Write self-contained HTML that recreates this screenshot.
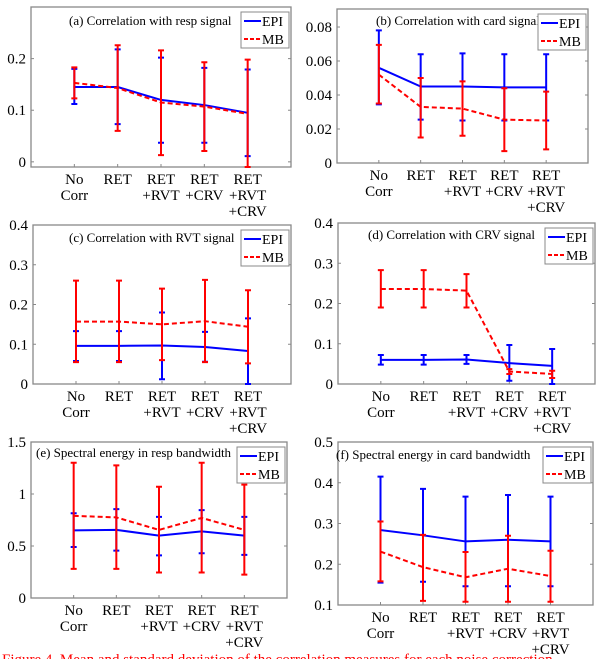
<!DOCTYPE html>
<html><head><meta charset="utf-8">
<style>
html,body{margin:0;padding:0;background:#fff;width:615px;height:659px;overflow:hidden}
svg{display:block}
text{font-family:"Liberation Serif",serif;fill:#000}
</style></head>
<body>
<svg id="fig" width="615" height="659" viewBox="0 0 615 659"></svg>
<script>
const categories = [["No","Corr"],["RET"],["RET","+RVT"],["RET","+CRV"],["RET","+RVT","+CRV"]];
const titles = ["(a) Correlation with resp signal","(b) Correlation with card signal","(c) Correlation with RVT signal","(d) Correlation with CRV signal","(e) Spectral energy in resp bandwidth","(f) Spectral energy in card bandwidth"];
const yTicksA=[0,0.1,0.2], yTicksB=[0,0.02,0.04,0.06,0.08], yTicksC=[0,0.1,0.2,0.3,0.4], yTicksD=[0,0.1,0.2,0.3,0.4], yTicksE=[0,0.5,1,1.5], yTicksF=[0.1,0.2,0.3,0.4,0.5];
const yTickLabelsA=["0","0.1","0.2"], yTickLabelsB=["0","0.02","0.04","0.06","0.08"], yTickLabelsC=["0","0.1","0.2","0.3","0.4"], yTickLabelsD=["0","0.1","0.2","0.3","0.4"], yTickLabelsE=["0","0.5","1","1.5"], yTickLabelsF=["0.1","0.2","0.3","0.4","0.5"];
// panel a
const epiMeanA=[0.145,0.145,0.12,0.11,0.095], epiLoA=[0.112,0.073,0.037,0.037,0.011], epiHiA=[0.18,0.218,0.202,0.182,0.179];
const mbMeanA=[0.153,0.143,0.115,0.107,0.093], mbLoA=[0.123,0.06,0.013,0.021,-0.01], mbHiA=[0.183,0.226,0.216,0.193,0.198];
// panel b
const epiMeanB=[0.056,0.045,0.045,0.0445,0.0445], epiLoB=[0.0345,0.0255,0.025,0.025,0.025], epiHiB=[0.078,0.064,0.0645,0.064,0.064];
const mbMeanB=[0.052,0.033,0.032,0.0255,0.025], mbLoB=[0.035,0.015,0.016,0.007,0.008], mbHiB=[0.0695,0.05,0.048,0.044,0.042];
// panel c
const epiMeanC=[0.096,0.096,0.097,0.093,0.083], epiLoC=[0.058,0.058,0.012,0.056,0], epiHiC=[0.133,0.133,0.18,0.131,0.165];
const mbMeanC=[0.157,0.157,0.15,0.158,0.144], mbLoC=[0.055,0.055,0.06,0.055,0.052], mbHiC=[0.26,0.26,0.24,0.262,0.236];
// panel d
const epiMeanD=[0.06,0.06,0.061,0.052,0.045], epiLoD=[0.048,0.048,0.05,0.008,0], epiHiD=[0.072,0.072,0.072,0.097,0.087];
const mbMeanD=[0.236,0.236,0.232,0.031,0.025], mbLoD=[0.19,0.19,0.19,0.025,0.015], mbHiD=[0.283,0.283,0.273,0.037,0.033];
// panel e
const epiMeanE=[0.65,0.655,0.6,0.64,0.6], epiLoE=[0.49,0.455,0.41,0.43,0.415], epiHiE=[0.815,0.855,0.78,0.845,0.78];
const mbMeanE=[0.79,0.775,0.655,0.77,0.655], mbLoE=[0.28,0.28,0.245,0.245,0.225], mbHiE=[1.3,1.275,1.07,1.3,1.09];
// panel f
const epiMeanF=[0.284,0.271,0.256,0.26,0.256], epiLoF=[0.155,0.157,0.146,0.146,0.146], epiHiF=[0.415,0.385,0.366,0.37,0.366];
const mbMeanF=[0.231,0.193,0.168,0.189,0.171], mbLoF=[0.158,0.11,0.108,0.108,0.108], mbHiF=[0.305,0.272,0.23,0.27,0.233];

const panels=[
 {L:31,R:291,T:7,B:167,y0:-0.01,y1:0.3,ticks:yTicksA,labels:yTickLabelsA,e:[epiMeanA,epiLoA,epiHiA],m:[mbMeanA,mbLoA,mbHiA],name:'a',tx:69,ty:25},
 {L:337,R:588,T:9,B:163,y0:0,y1:0.0906,ticks:yTicksB,labels:yTickLabelsB,e:[epiMeanB,epiLoB,epiHiB],m:[mbMeanB,mbLoB,mbHiB],name:'b',tx:376,ty:25},
 {L:33,R:291,T:225,B:384,y0:0,y1:0.4,ticks:yTicksC,labels:yTickLabelsC,e:[epiMeanC,epiLoC,epiHiC],m:[mbMeanC,mbLoC,mbHiC],name:'c',tx:69,ty:242},
 {L:338,R:595,T:223,B:384,y0:0,y1:0.4,ticks:yTicksD,labels:yTickLabelsD,e:[epiMeanD,epiLoD,epiHiD],m:[mbMeanD,mbLoD,mbHiD],name:'d',tx:368,ty:239},
 {L:31,R:287,T:442,B:598,y0:0,y1:1.5,ticks:yTicksE,labels:yTickLabelsE,e:[epiMeanE,epiLoE,epiHiE],m:[mbMeanE,mbLoE,mbHiE],name:'e',tx:36,ty:457},
 {L:338,R:593,T:442,B:605,y0:0.1,y1:0.5,ticks:yTicksF,labels:yTickLabelsF,e:[epiMeanF,epiLoF,epiHiF],m:[mbMeanF,mbLoF,mbHiF],name:'f',tx:336,ty:459}
];
const NS='http://www.w3.org/2000/svg';
const svg=document.getElementById('fig');
function mk(tag,attrs,parent){const el=document.createElementNS(NS,tag);for(const k in attrs)el.setAttribute(k,attrs[k]);(parent||svg).appendChild(el);return el;}

panels.forEach((p,pi)=>{
  const g=mk('g',{});
  
  
  const xs=i=>p.L+(i+1)*(p.R-p.L)/6;
  const ys=v=>p.B-(v-p.y0)/(p.y1-p.y0)*(p.B-p.T);
  const box=mk('rect',{x:p.L,y:p.T,width:p.R-p.L,height:p.B-p.T,fill:'#fff',stroke:'#888','stroke-width':1.3},g);
  
  
  p.ticks.forEach((t,ti)=>{
    const y=ys(t);
    mk('line',{x1:p.L,x2:p.L+3,y1:y,y2:y,stroke:'#888'},g);
    mk('line',{x1:p.R,x2:p.R-3,y1:y,y2:y,stroke:'#888'},g);
    const tx=mk('text',{x:p.L-5,y:y+5,'text-anchor':'end','font-size':15},g);
    tx.textContent=p.labels[ti];
    
    
  });
  categories.forEach((c,ci)=>{
    const x=xs(ci);
    mk('line',{x1:x,x2:x,y1:p.B,y2:p.B-3,stroke:'#888'},g);
    const tx=mk('text',{x:x,y:p.B+17,'text-anchor':'middle','font-size':15},g);
    
    
    c.forEach((ln,li)=>{const ts=mk('tspan',{x:x,dy:li?16:0},tx);ts.textContent=ln;});
  });
  const series=[[p.e,'#0000ff',''],[p.m,'#ff0000','5,3']];
  series.forEach(([d,col,dash],si)=>{
    const sg=mk('g',{},g);
    
    
    const [mean,lo,hi]=d;
    const pts=mean.map((v,i)=>xs(i)+','+ys(v)).join(' ');
    const pl=mk('polyline',{points:pts,fill:'none',stroke:col,'stroke-width':2,'stroke-dasharray':dash},sg);
    
    
    mean.forEach((v,i)=>{
      const x=xs(i),y1=ys(lo[i]),y2=ys(hi[i]);
      const eb=mk('path',{d:`M${x},${y1}V${y2}M${x-3},${y1}H${x+3}M${x-3},${y2}H${x+3}`,stroke:col,'stroke-width':2,fill:'none'},sg);
      
      
    });
  });
  const tt=mk('text',{x:p.tx,y:p.ty,'font-size':13},g);
  tt.textContent=titles[pi];
  
  
  const lg=mk('g',{},g);
  
  
  const lx=p.R-50, ly=p.T+5;
  mk('rect',{x:lx,y:ly,width:48,height:36,fill:'#fff',stroke:'#888'},lg);
  mk('line',{x1:lx+3,x2:lx+20,y1:ly+9,y2:ly+9,stroke:'#0000ff','stroke-width':2},lg);
  mk('line',{x1:lx+3,x2:lx+20,y1:ly+27,y2:ly+27,stroke:'#ff0000','stroke-width':2,'stroke-dasharray':'4,2'},lg);
  const t1=mk('text',{x:lx+21,y:ly+14,'font-size':14},lg);t1.textContent='EPI';
  
  
  const t2=mk('text',{x:lx+21,y:ly+32,'font-size':14},lg);t2.textContent='MB';
  
  
});
const cap=mk('text',{x:2,y:664,'font-size':15});
cap.style.fill='#ff0000';
cap.textContent='Figure 4. Mean and standard deviation of the correlation measures for each noise correction';


</script>
</body></html>
